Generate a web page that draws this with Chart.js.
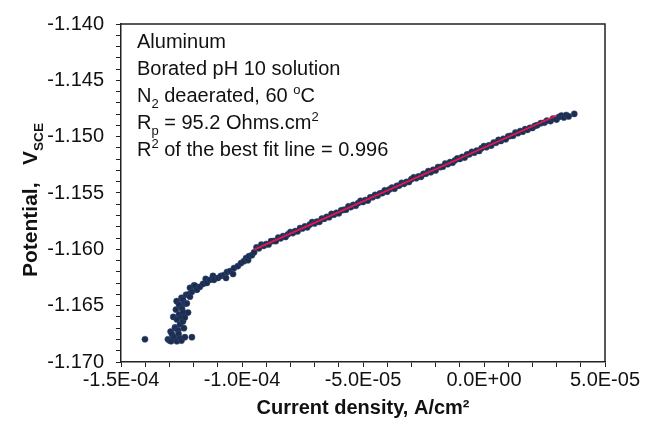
<!DOCTYPE html>
<html>
<head>
<meta charset="utf-8">
<script src="https://cdn.jsdelivr.net/npm/chart.js@4.4.0/dist/chart.umd.min.js"></script>
<style>
    html, body { margin: 0; padding: 0; background: #fff; }
    #wrap { width: 645px; height: 446px; position: relative; }
</style>
</head>
<body>
<div id="wrap"><canvas id="chartPolarisasi"></canvas></div>
<script>
// Data (arus dalam A/cm2, potensial dalam V vs SCE)

// ekor bawah kurva (daerah katodik)
const tailCurrent = [
    -140.1e-6, -130.6e-6, -129.9e-6, -129.5e-6, -129.3e-6, -128.9e-6, -128.4e-6, -128.1e-6, -127.7e-6,
    -127.5e-6, -127.3e-6, -127.0e-6, -126.9e-6, -126.9e-6, -126.4e-6, -126.2e-6, -126.0e-6, -126.0e-6,
    -125.6e-6, -125.6e-6, -125.0e-6, -125.0e-6, -125.0e-6, -124.8e-6, -124.4e-6, -124.4e-6, -124.2e-6,
    -124.0e-6, -123.6e-6, -123.6e-6, -123.6e-6, -123.1e-6, -122.8e-6, -122.3e-6, -122.0e-6, -121.5e-6,
    -121.5e-6, -120.7e-6, -120.7e-6, -119.8e-6, -119.4e-6, -118.6e-6, -117.4e-6, -116.1e-6, -115.0e-6,
    -114.5e-6, -113.2e-6, -112.0e-6, -111.6e-6, -109.9e-6, -108.7e-6, -107.4e-6, -106.6e-6, -106.2e-6,
    -104.9e-6, -103.7e-6, -103.3e-6, -101.7e-6, -100.4e-6, -99.2e-6, -98.3e-6, -97.5e-6, -97.1e-6,
    -95.9e-6, -95.0e-6
];
const tailPotential = [
    -1.16798, -1.16798, -1.16810, -1.16730, -1.16815, -1.16754, -1.16600, -1.16780, -1.16693,
    -1.16700, -1.16535, -1.16460, -1.16815, -1.16622, -1.16719, -1.16750, -1.16578, -1.16491,
    -1.16789, -1.16666, -1.16430, -1.16600, -1.16810, -1.16526, -1.16640, -1.16447, -1.16560,
    -1.16700, -1.16780, -1.16605, -1.16482, -1.16403, -1.16480, -1.16561, -1.16400, -1.16420,
    -1.16342, -1.16780, -1.16377, -1.16320, -1.16324, -1.16359, -1.16333, -1.16307, -1.16263,
    -1.16298, -1.16271, -1.16236, -1.16271, -1.16254, -1.16236, -1.16228, -1.16254, -1.16201,
    -1.16193, -1.16219, -1.16166, -1.16149, -1.16122, -1.16105, -1.16078, -1.16096, -1.16061,
    -1.16052, -1.16026
];

// bagian linier (daerah Rp)
const mainCurrent = [
    -94e-6, -93e-6, -92e-6, -91e-6, -90e-6, -89e-6, -88e-6, -87e-6, -86e-6, -85e-6,
    -84e-6, -83e-6, -82e-6, -81e-6, -80e-6, -79e-6, -78e-6, -77e-6, -76e-6, -75e-6,
    -74e-6, -73e-6, -72e-6, -71e-6, -70e-6, -69e-6, -68e-6, -67e-6, -66e-6, -65e-6,
    -64e-6, -63e-6, -62e-6, -61e-6, -60e-6, -59e-6, -58e-6, -57e-6, -56e-6, -55e-6,
    -54e-6, -53e-6, -52e-6, -51e-6, -50e-6, -49e-6, -48e-6, -47e-6, -46e-6, -45e-6,
    -44e-6, -43e-6, -42e-6, -41e-6, -40e-6, -39e-6, -38e-6, -37e-6, -36e-6, -35e-6,
    -34e-6, -33e-6, -32e-6, -31e-6, -30e-6, -29e-6, -28e-6, -27e-6, -26e-6, -25e-6,
    -24e-6, -23e-6, -22e-6, -21e-6, -20e-6, -19e-6, -18e-6, -17e-6, -16e-6, -15e-6,
    -14e-6, -13e-6, -12e-6, -11e-6, -10e-6, -9e-6, -8e-6, -7e-6, -6e-6, -5e-6,
    -4e-6, -3e-6, -2e-6, -1e-6, 0e-6, 1e-6, 2e-6, 3e-6, 4e-6, 5e-6,
    6e-6, 7e-6, 8e-6, 9e-6, 10e-6, 11e-6, 12e-6, 13e-6, 14e-6, 15e-6,
    16e-6, 17e-6, 18e-6, 19e-6, 20e-6, 21e-6, 22e-6, 23.5e-6, 25e-6, 26e-6,
    27.5e-6, 28.5e-6, 30e-6, 31e-6, 32e-6, 33e-6, 34e-6, 35e-6, 37.3e-6
];
const mainPotential = [
    -1.15983, -1.15991, -1.15959, -1.15969, -1.15953, -1.15957, -1.15928, -1.15926, -1.15927, -1.15895,
    -1.15902, -1.15882, -1.15890, -1.15866, -1.15846, -1.15856, -1.15839, -1.15840, -1.15811, -1.15815,
    -1.15796, -1.15805, -1.15780, -1.15758, -1.15770, -1.15754, -1.15756, -1.15727, -1.15729, -1.15712,
    -1.15715, -1.15686, -1.15692, -1.15676, -1.15680, -1.15653, -1.15650, -1.15648, -1.15618, -1.15625,
    -1.15606, -1.15613, -1.15589, -1.15569, -1.15580, -1.15563, -1.15567, -1.15538, -1.15537, -1.15517,
    -1.15524, -1.15503, -1.15501, -1.15476, -1.15488, -1.15467, -1.15452, -1.15462, -1.15437, -1.15434,
    -1.15410, -1.15419, -1.15402, -1.15402, -1.15377, -1.15360, -1.15369, -1.15352, -1.15356, -1.15330,
    -1.15329, -1.15306, -1.15315, -1.15294, -1.15300, -1.15270, -1.15270, -1.15266, -1.15238, -1.15244,
    -1.15226, -1.15231, -1.15210, -1.15193, -1.15198, -1.15180, -1.15186, -1.15158, -1.15156, -1.15135,
    -1.15142, -1.15124, -1.15127, -1.15102, -1.15084, -1.15093, -1.15077, -1.15079, -1.15052, -1.15053,
    -1.15029, -1.15038, -1.15019, -1.15023, -1.14997, -1.14993, -1.14992, -1.14963, -1.14969, -1.14950,
    -1.14956, -1.14933, -1.14939, -1.14922, -1.14922, -1.14905, -1.14898, -1.14880, -1.14875, -1.14858,
    -1.14862, -1.14840, -1.14848, -1.14825, -1.14812, -1.14830, -1.14808, -1.14820, -1.14798
];

// garis best fit (Rp = 95.2 Ohms.cm2)
const fitCurrent = [-9.5e-5, 3.0e-5];
const fitPotential = [-1.16002, -1.14812];

// label sumbu
const xMajor = [-1.5e-4, -1.0e-4, -5.0e-5, 0, 5.0e-5];
const xTickLabels = ['-1.5E-04', '-1.0E-04', '-5.0E-05', '0.0E+00', '5.0E-05'];
const yMajor = [-1.170, -1.165, -1.160, -1.155, -1.150, -1.145, -1.140];
const yTickLabels = ['-1.170', '-1.165', '-1.160', '-1.155', '-1.150', '-1.145', '-1.140'];

// teks keterangan: [teks, 'sub' | 'sup' | '']
const noteLines = [
    [['Aluminum', '']],
    [['Borated pH 10 solution', '']],
    [['N', ''], ['2', 'sub'], [' deaerated, 60 ', ''], ['o', 'sup'], ['C', '']],
    [['R', ''], ['p', 'sub'], [' = 95.2 Ohms.cm', ''], ['2', 'sup']],
    [['R', ''], ['2', 'sup'], [' of the best fit line = 0.996', '']]
];

const FONT = 'Arial, "Liberation Sans", sans-serif';

function toPoints(xs, ys) {
    return xs.map((x, i) => ({ x: x, y: ys[i] }));
}

function labelFor(value, majors, labels) {
    const k = majors.findIndex(m => Math.abs(m - value) < 1e-9);
    return k >= 0 ? labels[k] : '';
}

function drawRuns(ctx, runs, x, y, size, weight) {
    runs.forEach(([t, mode]) => {
        let s = size, dy = 0;
        if (mode === 'sub') { s = size * 0.65; dy = size * 0.3; }
        if (mode === 'sup') { s = size * 0.65; dy = -size * 0.4; }
        ctx.font = weight + ' ' + s + 'px ' + FONT;
        ctx.fillText(t, x, y + dy);
        x += ctx.measureText(t).width;
    });
    return x;
}

// bingkai + teks keterangan + judul sumbu Y
const decorPlugin = {
    id: 'decor',
    afterDatasetsDraw(chart) {
        const { ctx, chartArea } = chart;
        ctx.save();
        ctx.strokeStyle = '#222';
        ctx.lineWidth = 1.5;
        ctx.beginPath();
        ctx.moveTo(chartArea.left, chartArea.top);
        ctx.lineTo(chartArea.right, chartArea.top);
        ctx.lineTo(chartArea.right, chartArea.bottom);
        ctx.stroke();

        ctx.fillStyle = '#111';
        ctx.textBaseline = 'alphabetic';
        ctx.textAlign = 'left';
        noteLines.forEach((runs, i) => {
            drawRuns(ctx, runs, 137, 48 + i * 27, 20, 'normal');
        });

        // judul sumbu Y (diputar)
        ctx.translate(37, 200);
        ctx.rotate(-Math.PI / 2);
        const runs = [['Potential,   V', ''], ['SCE', 'sub']];
        let w = 0;
        runs.forEach(([t, mode]) => {
            ctx.font = 'bold ' + (mode ? 21 * 0.65 : 21) + 'px ' + FONT;
            w += ctx.measureText(t).width;
        });
        drawRuns(ctx, runs, -w / 2, 0, 21, 'bold');
        ctx.restore();
    }
};

const ctxPolarisasi = document.getElementById('chartPolarisasi');

new Chart(ctxPolarisasi, {
    type: 'scatter',
    data: {
        datasets: [{
            label: 'Best fit',
            data: toPoints(fitCurrent, fitPotential),
            showLine: true,
            borderColor: '#e8164a',
            borderWidth: 1.8,
            pointRadius: 0,
            order: 1
        }, {
            label: 'Data',
            data: toPoints(tailCurrent, tailPotential).concat(toPoints(mainCurrent, mainPotential)),
            pointRadius: 3.1,
            pointBackgroundColor: '#1f2c52',
            pointBorderColor: '#2a4c70',
            pointBorderWidth: 0.5,
            order: 2
        }]
    },
    options: {
        responsive: true,
        maintainAspectRatio: false,
        animation: false,
        layout: { padding: { top: 21, right: 40, bottom: 0, left: 0 } },
        plugins: {
            legend: { display: false },
            tooltip: { enabled: false }
        },
        scales: {
            x: {
                type: 'linear',
                min: -1.5e-4,
                max: 5.0e-5,
                afterFit: scale => { scale.height = 84; },
                border: { display: true, color: '#222', width: 1.5 },
                grid: { drawOnChartArea: false, drawTicks: true, tickLength: 5, color: '#222' },
                ticks: {
                    stepSize: 1e-5,
                    autoSkip: false,
                    maxRotation: 0,
                    padding: 1,
                    color: '#111',
                    font: { family: FONT, size: 20 },
                    callback: v => labelFor(v, xMajor, xTickLabels)
                },
                title: {
                    display: true,
                    text: 'Current density, A/cm²',
                    color: '#111',
                    font: { family: FONT, size: 20, weight: 'bold' },
                    padding: { top: 0, bottom: 26 }
                }
            },
            y: {
                type: 'linear',
                min: -1.170,
                max: -1.140,
                afterFit: scale => { scale.width = 121; },
                border: { display: true, color: '#222', width: 1.5 },
                grid: { drawOnChartArea: false, drawTicks: true, tickLength: 5, color: '#222' },
                ticks: {
                    stepSize: 0.001,
                    autoSkip: false,
                    padding: 12,
                    color: '#111',
                    font: { family: FONT, size: 20 },
                    callback: v => labelFor(v, yMajor, yTickLabels)
                }
            }
        }
    },
    plugins: [decorPlugin]
});
</script>
</body>
</html>
